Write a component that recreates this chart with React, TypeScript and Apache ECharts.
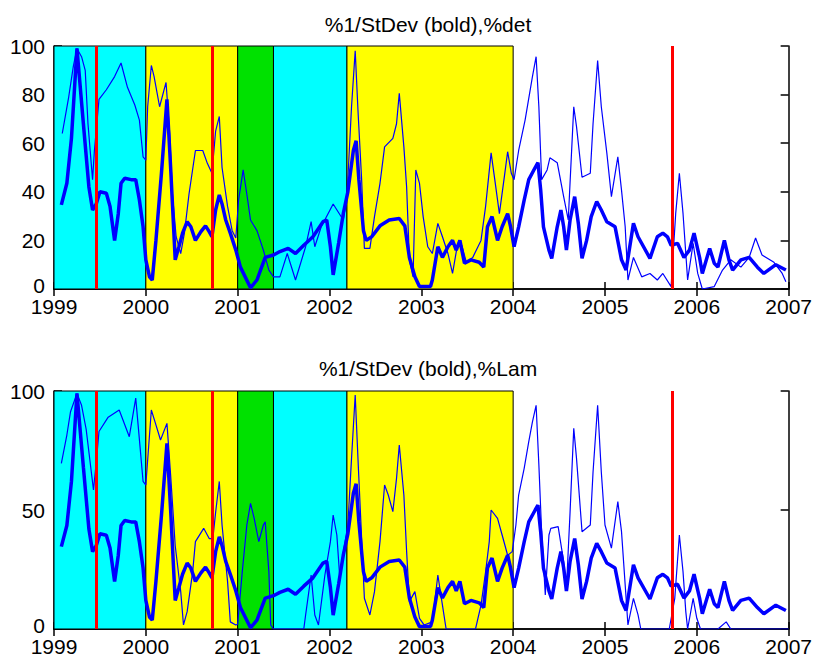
import React, { useEffect, useRef } from "react";
import * as echarts from "echarts";

// Time axis (decimal years)
const xMin = 1999;
const xMax = 2007;

// Titles
const titleTop = "%1/StDev (bold),%det";
const titleBottom = "%1/StDev (bold),%Lam";

// Shaded regimes
const regionStart = [1999.0, 2000.0, 2001.0, 2001.39, 2002.19];
const regionEnd = [2000.0, 2001.0, 2001.39, 2002.19, 2004.0];
const regionColor = ["#00FFFF", "#FFFF00", "#00E100", "#00FFFF", "#FFFF00"];

// Red event lines
const eventDates = [1999.46, 2000.72, 2005.73];

// Bold series: 1/StDev (same in both panels)
const boldT = [
  1999.08, 1999.14, 1999.19, 1999.25, 1999.32, 1999.38, 1999.42, 1999.46, 1999.5, 1999.57,
  1999.61, 1999.66, 1999.7, 1999.73, 1999.77, 1999.84, 1999.89, 1999.93, 1999.97, 2000.0,
  2000.04, 2000.07, 2000.11, 2000.17, 2000.23, 2000.27, 2000.32, 2000.36, 2000.4, 2000.45,
  2000.49, 2000.54, 2000.6, 2000.65, 2000.69, 2000.72, 2000.76, 2000.8, 2000.83, 2000.87,
  2000.92, 2000.98, 2001.03, 2001.14, 2001.21, 2001.3, 2001.39, 2001.46, 2001.55, 2001.63,
  2001.72, 2001.82, 2001.93, 2001.97, 2002.01, 2002.04, 2002.1, 2002.15, 2002.2, 2002.26,
  2002.29, 2002.32, 2002.37, 2002.4, 2002.46, 2002.55, 2002.65, 2002.76, 2002.82, 2002.87,
  2002.93, 2002.98, 2003.1, 2003.12, 2003.18, 2003.23, 2003.29, 2003.34, 2003.38, 2003.42,
  2003.47, 2003.54, 2003.63, 2003.68, 2003.72, 2003.77, 2003.83, 2003.88, 2003.94, 2003.97,
  2004.01, 2004.06, 2004.12, 2004.17, 2004.24, 2004.27, 2004.3, 2004.33, 2004.39, 2004.42,
  2004.48, 2004.52, 2004.55, 2004.58, 2004.62, 2004.67, 2004.71, 2004.75, 2004.8, 2004.85,
  2004.91, 2004.96, 2005.02, 2005.11, 2005.18, 2005.23, 2005.31, 2005.36, 2005.49, 2005.57,
  2005.63, 2005.68, 2005.72, 2005.79, 2005.86, 2005.92, 2005.97, 2006.03, 2006.06, 2006.14,
  2006.19, 2006.23, 2006.3, 2006.35, 2006.39, 2006.48, 2006.57, 2006.66, 2006.73, 2006.86,
  2006.97,
];
const boldV = [
  34.6, 43.5, 62, 99, 68, 42, 32.5, 35, 40, 39.4,
  34, 20, 31, 43.5, 45.6, 45, 45, 36.6, 25.6, 12,
  5, 3.7, 20, 47.6, 78, 50, 12, 17.4, 23, 27.7,
  25.6, 20, 23.6, 26, 23.6, 21.5, 32.5, 38.7, 35, 28.4,
  23, 16, 9, 0.5, 3.7, 13, 14, 15.4, 16.7, 14.6,
  18, 21.5, 27.7, 28.4, 17.4, 5.8, 19, 31, 40, 57,
  61, 45, 24, 20, 21.5, 26, 28.4, 29, 26, 13,
  5, 1, 1, 3.7, 17.4, 13, 17.4, 20, 16, 20,
  10.6, 12, 11, 9, 25.6, 29.8, 20, 25.6, 31, 26,
  17.4, 25.6, 36.6, 45, 50, 52, 40.7, 25.6, 16, 12.6,
  25.6, 32.5, 25.6, 16, 28.4, 38, 27, 12.6, 20, 29.8,
  36, 32.5, 27.7, 25.6, 12, 7.8, 27, 21.5, 12.6, 21.5,
  23, 21.5, 18, 18.8, 13, 16, 23, 13, 6.4, 16.7,
  10.6, 9, 20, 12, 7.8, 12, 13, 9, 6.4, 10,
  7.8,
];

// Thin series, top panel: %det
const detT = [
  1999.09, 1999.16, 1999.21, 1999.25, 1999.3, 1999.34, 1999.37, 1999.42, 1999.44, 1999.49,
  1999.57, 1999.66, 1999.73, 1999.8, 1999.88, 1999.93, 1999.97, 2000.0, 2000.02, 2000.06,
  2000.09, 2000.15, 2000.22, 2000.26, 2000.29, 2000.33, 2000.38, 2000.42, 2000.47, 2000.54,
  2000.62, 2000.67, 2000.72, 2000.76, 2000.8, 2000.83, 2000.89, 2000.94, 2000.98, 2001.01,
  2001.06, 2001.1, 2001.14, 2001.21, 2001.28, 2001.34, 2001.39, 2001.46, 2001.54, 2001.63,
  2001.74, 2001.8, 2001.84, 2001.91, 2002.04, 2002.15, 2002.19, 2002.24, 2002.28, 2002.31,
  2002.35, 2002.38, 2002.44, 2002.49, 2002.55, 2002.6, 2002.69, 2002.73, 2002.76, 2002.81,
  2002.84, 2002.87, 2002.91, 2002.94, 2002.98, 2003.02, 2003.07, 2003.12, 2003.18, 2003.23,
  2003.29, 2003.34, 2003.39, 2003.44, 2003.49, 2003.56, 2003.65, 2003.7, 2003.76, 2003.8,
  2003.85, 2003.9, 2003.94, 2003.98, 2004.01, 2004.06, 2004.13, 2004.21, 2004.25, 2004.28,
  2004.31, 2004.37, 2004.4, 2004.48, 2004.55, 2004.6, 2004.66, 2004.69, 2004.75, 2004.84,
  2004.87, 2004.92, 2004.96, 2005.02, 2005.07, 2005.14, 2005.18, 2005.22, 2005.25, 2005.31,
  2005.4, 2005.49, 2005.57, 2005.63, 2005.72, 2005.77, 2005.81, 2005.85, 2005.9, 2005.96,
  2006.01, 2006.06, 2006.19, 2006.28, 2006.37, 2006.48, 2006.57, 2006.64, 2006.71, 2006.84,
  2006.93, 2006.97,
];
const detV = [
  64, 79, 91.5, 99, 95.6, 90, 68, 45, 57, 78,
  82, 87.4, 93, 83, 75.7, 69.5, 54.4, 53, 75, 92,
  87.4, 75, 85, 64, 39, 21.5, 14.6, 23, 39, 57,
  57, 51.7, 47.6, 65, 71, 50, 34, 24, 21, 36.6,
  49, 39, 28.4, 24, 16, 7.8, 5, 5, 14.6, 3.7,
  17.4, 27.7, 17.4, 25.6, 35, 28.4, 38, 75, 98, 73.7,
  45, 16.7, 16.7, 29.8, 43.5, 58.5, 62, 68, 80.5, 58.5,
  42, 12, 5, 49, 43.5, 29.8, 17.4, 14.6, 27, 21.5,
  14.6, 6.4, 17.4, 18, 11, 13, 20, 34, 56, 45,
  31, 45, 56.5, 47.6, 45, 57, 69.5, 87.4, 95.6, 75,
  45, 49, 54, 52, 38, 28.4, 75, 66.8, 46, 47.6,
  68, 94, 75, 56, 38, 54.4, 40.7, 25.6, 3.7, 13,
  5, 6.4, 3.7, 6.4, 1, 31, 47.6, 31, 3.7, 18.8,
  6.4, 0, 1, 7.8, 12, 9, 13, 21, 14, 11,
  6.4, 3,
];

// Thin series, bottom panel: %Lam
const lamT = [
  1999.08, 1999.14, 1999.18, 1999.25, 1999.3, 1999.35, 1999.43, 1999.46, 1999.49, 1999.59,
  1999.71, 1999.82, 1999.89, 1999.92, 1999.97, 2000.0, 2000.06, 2000.1, 2000.16, 2000.23,
  2000.27, 2000.32, 2000.38, 2000.41, 2000.45, 2000.51, 2000.54, 2000.63, 2000.69, 2000.73,
  2000.76, 2000.8, 2000.83, 2000.89, 2000.92, 2000.98, 2001.0, 2001.05, 2001.1, 2001.14,
  2001.18, 2001.23, 2001.28, 2001.3, 2001.34, 2001.36, 2001.39, 2001.72, 2001.74, 2001.8,
  2001.84, 2001.88, 2001.95, 2002.01, 2002.04, 2002.08, 2002.11, 2002.17, 2002.2, 2002.24,
  2002.28, 2002.31, 2002.35, 2002.38, 2002.44, 2002.49, 2002.55, 2002.6, 2002.64, 2002.69,
  2002.73, 2002.76, 2002.81, 2002.84, 2002.87, 2002.93, 2002.98, 2003.03, 2003.12, 2003.18,
  2003.23, 2003.27, 2003.59, 2003.65, 2003.7, 2003.74, 2003.76, 2003.83, 2003.88, 2003.94,
  2003.99, 2004.03, 2004.06, 2004.12, 2004.17, 2004.21, 2004.25, 2004.28, 2004.31, 2004.35,
  2004.39, 2004.41, 2004.49, 2004.55, 2004.58, 2004.62, 2004.66, 2004.69, 2004.75, 2004.84,
  2004.87, 2004.92, 2004.96, 2005.0, 2005.07, 2005.14, 2005.18, 2005.22, 2005.25, 2005.31,
  2005.36, 2005.39, 2005.7, 2005.76, 2005.81, 2005.85, 2005.88, 2005.9, 2005.96, 2006.0,
  2006.04, 2006.23, 2006.32, 2006.37, 2007.0,
];
const lamV = [
  69.6, 81.5, 91.3, 99, 94, 84, 58.4, 70, 83, 89,
  92, 80.8, 97, 84, 62, 60.5, 92, 87, 79.4, 86.4,
  64.7, 35, 15.7, 1.7, 7.3, 24, 36.7, 42.3, 38, 38,
  49, 62, 43.7, 20, 3, 1.7, 2, 24, 43.7, 52.8,
  46.5, 36.7, 43.7, 45, 24, 1.7, 0, 0, 5.9, 22.7,
  5.9, 1.7, 22.7, 36.7, 47.9, 39.5, 22.7, 36.7, 43.7, 71.7,
  98.3, 71.7, 38, 12.9, 5.9, 15.7, 36.7, 60.5, 56.3, 49.3,
  63.3, 77.3, 56.3, 32.5, 11.5, 15.7, 4.5, 1.7, 3, 22.7,
  10, 0, 0, 10, 24, 36.7, 50, 46.5, 39.5, 31,
  32.5, 43.7, 56.3, 67.5, 78.7, 87, 94, 69, 40.9, 14.3,
  39.5, 42.3, 43, 28.3, 17, 49.3, 84.3, 71.7, 40.9, 43.7,
  66, 94, 66, 43.7, 34, 53.5, 40.9, 18.5, 1.7, 12.9,
  5.9, 0, 0, 12.9, 39.5, 24, 7.3, 0, 12.9, 4.5,
  0, 0, 3, 0, 0,
];

// Axis ticks
const xTickInterval = 1;
const yTickTop = 20;
const yTickBottom = 50;

const zip = (t: number[], v: number[]) => t.map((x, i) => [x, v[i]]);

const FONT = "'Liberation Sans', Arial, sans-serif";

export default function App() {
  const ref = useRef<HTMLDivElement>(null);

  useEffect(() => {
    if (!ref.current) return;
    const chart = echarts.init(ref.current, null, { renderer: "svg" });

    const grids = [
      { left: 54, right: 22, top: 46, height: 243 },
      { left: 54, right: 22, top: 391, height: 238 },
    ];

    const xAxes: any[] = [];
    const yAxes: any[] = [];
    [0, 1].forEach((g) => {
      xAxes.push({
        type: "value",
        gridIndex: g,
        position: "bottom",
        min: xMin,
        max: xMax,
        interval: xTickInterval,
        axisLine: { show: true, lineStyle: { color: "#000", width: 1.5 } },
        axisTick: { show: true, inside: true, length: 7, lineStyle: { color: "#000", width: 1.5 } },
        axisLabel: {
          show: true,
          color: "#000",
          fontFamily: FONT,
          fontSize: 21,
          lineHeight: 16,
          margin: 9,
          formatter: (v: number) => String(v),
        },
        splitLine: { show: false },
      });
      xAxes.push({
        type: "value",
        gridIndex: g,
        position: "top",
        min: xMin,
        max: xMax,
        interval: xTickInterval,
        axisLine: { show: true, lineStyle: { color: "#000", width: 1.5 } },
        axisTick: { show: true, inside: true, length: 7, lineStyle: { color: "#000", width: 1.5 } },
        axisLabel: { show: false },
        splitLine: { show: false },
      });
      const yi = g === 0 ? yTickTop : yTickBottom;
      yAxes.push({
        type: "value",
        gridIndex: g,
        position: "left",
        min: 0,
        max: 100,
        interval: yi,
        axisLine: { show: true, lineStyle: { color: "#000", width: 1.5 } },
        axisTick: { show: true, inside: true, length: 8, lineStyle: { color: "#000", width: 1.5 } },
        axisLabel: {
          show: true,
          color: "#000",
          fontFamily: FONT,
          fontSize: 21,
          lineHeight: 16,
          margin: 9,
          formatter: (v: number) => (v === 0 ? "{z|0}" : String(v)),
          rich: { z: { fontFamily: FONT, fontSize: 21, lineHeight: 16, padding: [0, 0, 8, 0] } },
        },
        splitLine: { show: false },
      });
      yAxes.push({
        type: "value",
        gridIndex: g,
        position: "right",
        min: 0,
        max: 100,
        interval: yi,
        axisLine: { show: true, lineStyle: { color: "#000", width: 1.5 } },
        axisTick: { show: true, inside: true, length: 8, lineStyle: { color: "#000", width: 1.5 } },
        axisLabel: { show: false },
        splitLine: { show: false },
      });
    });

    const areaData = regionStart.map((s, i) => [
      { xAxis: s, itemStyle: { color: regionColor[i], borderColor: "#000", borderWidth: 1 } },
      { xAxis: regionEnd[i] },
    ]);

    const series: any[] = [];
    const thinSets = [zip(detT, detV), zip(lamT, lamV)];
    [0, 1].forEach((g) => {
      series.push({
        type: "line",
        name: "bg" + g,
        xAxisIndex: g * 2,
        yAxisIndex: g * 2,
        data: [],
        silent: true,
        z: 1,
        markArea: { silent: true, data: areaData },
        markLine: {
          silent: true,
          symbol: "none",
          label: { show: false },
          lineStyle: { color: "#FF0000", width: 3, type: "solid" },
          data: eventDates.map((d) => ({ xAxis: d })),
        },
      });
      series.push({
        type: "line",
        xAxisIndex: g * 2,
        yAxisIndex: g * 2,
        data: thinSets[g],
        showSymbol: false,
        symbol: "none",
        z: 3,
        lineStyle: { color: "#0000FF", width: 1.2 },
      });
      series.push({
        type: "line",
        xAxisIndex: g * 2,
        yAxisIndex: g * 2,
        data: zip(boldT, boldV),
        showSymbol: false,
        symbol: "none",
        z: 4,
        lineStyle: { color: "#0000FF", width: 3.5 },
      });
    });

    chart.setOption({
      animation: false,
      backgroundColor: "#FFFFFF",
      title: [
        {
          text: titleTop,
          left: 423,
          top: 9,
          textAlign: "center",
          textStyle: { fontFamily: FONT, fontSize: 21, fontWeight: "normal", color: "#000" },
        },
        {
          text: titleBottom,
          left: 423,
          top: 353,
          textAlign: "center",
          textStyle: { fontFamily: FONT, fontSize: 21, fontWeight: "normal", color: "#000" },
        },
      ],
      grid: grids,
      xAxis: xAxes,
      yAxis: yAxes,
      series,
    });

    return () => chart.dispose();
  }, []);

  return (
    <div
      ref={ref}
      style={{ position: "absolute", left: 0, top: 0, width: 815, height: 661 }}
    />
  );
}
